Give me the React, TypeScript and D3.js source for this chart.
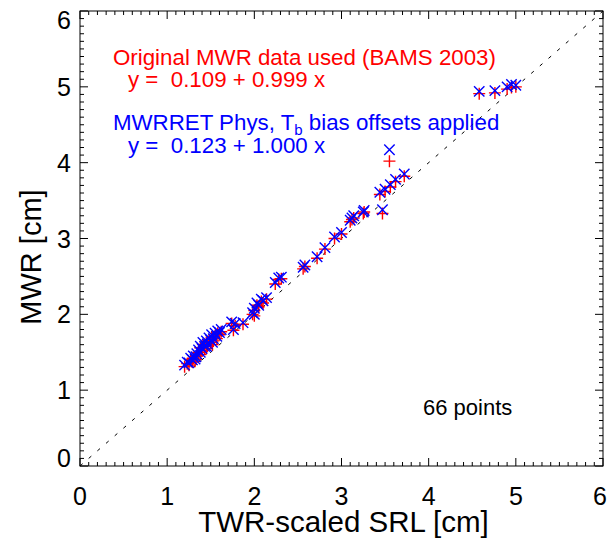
import React from "react";
import * as d3 from "d3";

// ---- data ----
const srl = [
  1.20, 1.23, 1.25, 1.27, 1.29, 1.30, 1.32, 1.34, 1.36, 1.38, 1.40, 1.41, 1.43, 1.45,
  1.46, 1.48, 1.50, 1.51, 1.53, 1.55, 1.57, 1.58, 1.60, 1.62, 1.45, 1.38, 1.52, 1.33,
  1.74, 1.76, 1.78, 1.87, 1.98, 2.00, 2.03, 2.05, 2.08, 2.10, 2.14, 2.00,
  2.24, 2.28, 2.31,
  2.56, 2.58, 2.72, 2.81, 2.92, 3.00, 3.10, 3.12, 3.14, 3.25, 3.26,
  3.44, 3.47, 3.50, 3.55, 3.56, 3.62, 3.72,
  4.58, 4.76, 4.90, 4.95, 5.00,
];
const mwrOriginal = [
  1.31, 1.35, 1.33, 1.40, 1.37, 1.42, 1.38, 1.45, 1.50, 1.56, 1.52, 1.60, 1.55, 1.62,
  1.58, 1.66, 1.63, 1.70, 1.65, 1.72, 1.68, 1.75, 1.73, 1.77, 1.55, 1.47, 1.60, 1.41,
  1.88, 1.79, 1.85, 1.87, 2.00, 2.05, 2.12, 2.10, 2.17, 2.15, 2.20, 1.98,
  2.40, 2.46, 2.47,
  2.60, 2.63, 2.74, 2.86, 3.00, 3.06, 3.22, 3.25, 3.27, 3.33, 3.35,
  3.58, 3.33, 3.62, 4.02, 3.68, 3.75, 3.82,
  4.91, 4.92, 4.97, 4.99, 5.00,
];
const mwrret = [
  1.33, 1.37, 1.36, 1.42, 1.40, 1.45, 1.41, 1.48, 1.53, 1.58, 1.55, 1.63, 1.58, 1.65,
  1.61, 1.69, 1.66, 1.73, 1.68, 1.75, 1.71, 1.78, 1.76, 1.80, 1.58, 1.50, 1.63, 1.44,
  1.90, 1.80, 1.88, 1.89, 2.02, 2.08, 2.15, 2.12, 2.20, 2.18, 2.22, 2.00,
  2.42, 2.48, 2.49,
  2.62, 2.65, 2.76, 2.88, 3.02, 3.08, 3.24, 3.27, 3.30, 3.35, 3.37,
  3.61, 3.38, 3.65, 4.17, 3.71, 3.78, 3.85,
  4.94, 4.95, 5.00, 5.03, 5.02,
];
const axisTicks = [0, 1, 2, 3, 4, 5, 6];
const minorTicks = d3.range(0, 60.5, 1).map((d) => d / 10);

const W = 608, H = 542;
const L = 80, R = 603, T = 11, B = 466;
const FONT = "'Liberation Sans', Arial, Helvetica, sans-serif";

export default function App() {
  const x = d3.scaleLinear().domain([0, 6]).range([L, R]);
  const y = d3.scaleLinear().domain([0, 6]).range([B, T]);
  const plus = 6, cross = 5.2;
  return (
    <svg width={W} height={H} style={{ position: "absolute", left: 0, top: 0, background: "#fff" }}
      fontFamily={FONT}>
      <rect x={0} y={0} width={W} height={H} fill="#fff" />
      {/* one-to-one line */}
      <line x1={x(0)} y1={y(0)} x2={x(6)} y2={y(6)} stroke="#000" strokeWidth={1}
        strokeDasharray="3.5 8" />
      {/* points */}
      {srl.map((s, i) => (
        <path key={"r" + i} stroke="#ff0000" strokeWidth={1.4} fill="none"
          d={`M${x(s) - plus},${y(mwrOriginal[i])}h${2 * plus}M${x(s)},${y(mwrOriginal[i]) - plus}v${2 * plus}`} />
      ))}
      {srl.map((s, i) => (
        <path key={"b" + i} stroke="#0000ff" strokeWidth={1.4} fill="none"
          d={`M${x(s) - cross},${y(mwrret[i]) - cross}l${2 * cross},${2 * cross}M${x(s) - cross},${y(mwrret[i]) + cross}l${2 * cross},${-2 * cross}`} />
      ))}
      {/* frame */}
      <rect x={L} y={T} width={R - L} height={B - T} fill="none" stroke="#000" strokeWidth={1} />
      {/* ticks */}
      {minorTicks.map((t, i) => {
        const len = i % 10 === 0 ? 8 : 4;
        return (
          <g key={"t" + i} stroke="#000" strokeWidth={1}>
            <line x1={x(t)} x2={x(t)} y1={B} y2={B - len} />
            <line x1={x(t)} x2={x(t)} y1={T} y2={T + len} />
            <line y1={y(t)} y2={y(t)} x1={L} x2={L + len} />
            <line y1={y(t)} y2={y(t)} x1={R} x2={R - len} />
          </g>
        );
      })}
      {/* tick labels */}
      {axisTicks.map((t) => (
        <text key={"xl" + t} x={Math.min(x(t), 600)} y={505} fontSize={25} textAnchor="middle" fill="#000">{t}</text>
      ))}
      {axisTicks.map((t) => {
        const cy = Math.min(Math.max(y(t), T + 8.5), B - 8.5);
        return (
          <text key={"yl" + t} x={71} y={cy + 9} fontSize={25} textAnchor="end" fill="#000">{t}</text>
        );
      })}
      {/* axis titles */}
      <text x={(L + R) / 2 + 2} y={532} fontSize={29.5} textAnchor="middle" fill="#000">TWR-scaled SRL [cm]</text>
      <text transform={`translate(41,257) rotate(-90)`} fontSize={29} textAnchor="middle" fill="#000">MWR [cm]</text>
      {/* legend */}
      <text x={113} y={65} fontSize={22.3} fill="#ff0000">Original MWR data used (BAMS 2003)</text>
      <text x={128} y={87} fontSize={22.3} fill="#ff0000" style={{ whiteSpace: "pre" }}>{"y =  0.109 + 0.999 x"}</text>
      <text x={113} y={130} fontSize={22.3} fill="#0000ff">
        MWRRET Phys, T<tspan fontSize={15} dy={5}>b</tspan><tspan dy={-5}> bias offsets applied</tspan>
      </text>
      <text x={128} y={153} fontSize={22.3} fill="#0000ff" style={{ whiteSpace: "pre" }}>{"y =  0.123 + 1.000 x"}</text>
      <text x={423} y={415} fontSize={22} fill="#000">66 points</text>
    </svg>
  );
}
